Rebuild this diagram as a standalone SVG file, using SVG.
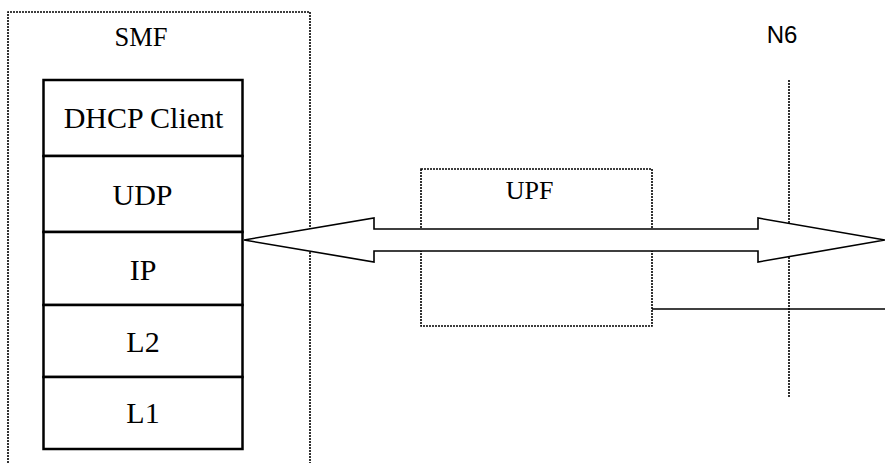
<svg xmlns="http://www.w3.org/2000/svg" width="885" height="463" viewBox="0 0 885 463">
<style>
.dot{fill:none;stroke:#000;stroke-width:1.6;stroke-dasharray:2 1}
.box{fill:#fff;stroke:#000;stroke-width:2.5}
.t{font-family:"Liberation Serif",serif;font-size:30px;fill:#000;text-anchor:middle}
.a{font-family:"Liberation Sans",sans-serif;font-size:24px;fill:#000;text-anchor:middle}
.ln{fill:none;stroke:#000;stroke-width:1.6}
</style>
<rect width="885" height="463" fill="#fff"/>
<g id="smf">
<path class="dot" d="M8,463 V12 H310 V463"/>
<text class="t" x="141" y="46" style="font-size:26.5px">SMF</text>
</g>
<g id="dhcp"><rect class="box" x="43.5" y="80" width="199" height="76"/><text class="t" x="143.5" y="128">DHCP Client</text></g>
<g id="udp"><rect class="box" x="43.5" y="156" width="199" height="76"/><text class="t" x="142.5" y="205">UDP</text></g>
<g id="ip"><rect class="box" x="43.5" y="232" width="199" height="73"/><text class="t" x="143" y="280">IP</text></g>
<g id="l2"><rect class="box" x="43.5" y="305" width="199" height="72"/><text class="t" x="143" y="352">L2</text></g>
<g id="l1"><rect class="box" x="43.5" y="377" width="199" height="72"/><text class="t" x="143" y="423">L1</text></g>
<g id="upf">
<rect class="dot" x="421" y="169" width="231" height="157"/>
<text class="t" x="529.5" y="199" style="font-size:26px">UPF</text>
</g>
<g id="n6">
<line class="dot" x1="789" y1="80" x2="789" y2="397"/>
<text class="a" x="782" y="42.5">N6</text>
</g>
<g id="connectors">
<path class="ln" d="M244,240 L374,218 V229 H758 V218 L885,240 L758,262 V251 H374 V262 Z" style="fill:#fff"/>
<line class="ln" x1="652" y1="309" x2="885" y2="309"/>
</g>
</svg>
